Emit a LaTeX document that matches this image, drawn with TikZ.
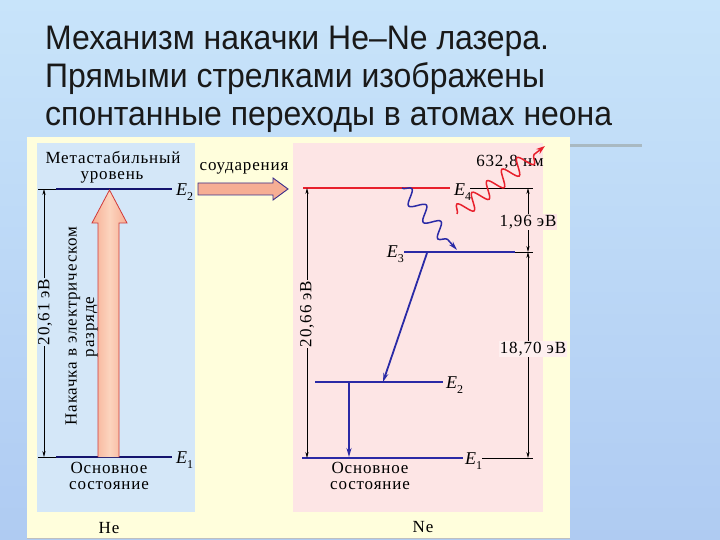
\documentclass[tikz,border=0pt]{standalone}
\usepackage{fontspec}
\setmainfont{Liberation Serif}
\newfontfamily\titlefont[FakeStretch=0.94]{Liberation Sans}
\newfontfamily\labfont[LetterSpace=5]{Liberation Serif}
\usetikzlibrary{arrows.meta,decorations.pathmorphing}
\definecolor{bgtop}{HTML}{C8E4FA}
\definecolor{bgbot}{HTML}{AFCBF2}
\definecolor{ypanel}{HTML}{FFFEDC}
\definecolor{hepanel}{HTML}{D4E7F8}
\definecolor{nepanel}{HTML}{FDE5E5}
\definecolor{gline}{HTML}{A9B9C2}
\definecolor{navy}{HTML}{14146E}
\definecolor{neblue}{HTML}{2A2AA6}
\definecolor{nered}{HTML}{E8202C}
\definecolor{peach}{HTML}{F6AE94}
\definecolor{peachlight}{HTML}{FCD4BE}
\definecolor{arrred}{HTML}{D03A3A}
\definecolor{arrnavy}{HTML}{3A2E8A}
\newcommand\lev[1]{{\fontsize{18}{18}\selectfont\textit{E}}\kern-1pt\raisebox{-0.3em}{\fontsize{12}{12}\selectfont #1}}
\begin{document}
\begin{tikzpicture}[x=1pt,y=-1pt,
  lab/.style={font=\labfont\fontsize{17}{17}\selectfont, inner sep=1pt},
  tight/.style={inner sep=0pt, text height=10pt, text depth=3pt},
  title/.style={anchor=base west, inner sep=0pt, font=\titlefont\fontsize{34}{38}\selectfont, text=black!90},
  dim/.style={black, line width=0.6pt, {Stealth[length=6pt,width=3.2pt]}-{Stealth[length=6pt,width=3.2pt]}},
  tick/.style={black, line width=0.8pt},
  helev/.style={navy, line width=2pt},
  nelev/.style={neblue, line width=2.2pt},
  trans/.style={neblue, line width=1.8pt, -{Stealth[length=9pt,width=5pt]}},
  wave/.style={decorate, decoration={snake, amplitude=7pt, segment length=22pt, post length=9pt}}]
\useasboundingbox (0,0) rectangle (720,540);
\shade[top color=bgtop, bottom color=bgbot] (0,0) rectangle (720,540);

% title
\node[title] (t1) at (45,50) {Механизм накачки He–Ne лазера.};
\node[title] (t2) at (45,88) {Прямыми стрелками изображены};
\node[title] (t3) at (45,126) {спонтанные переходы в атомах неона};
\draw[gline, line width=3pt] (570,146) -- (642,146);

% panels
\fill[ypanel] (27,137) rectangle (570,538);
\draw[black!25, line width=0.6pt] (27,538) -- (570,538);
\fill[hepanel] (37,143) rectangle (195,512);
\fill[nepanel] (293,143) rectangle (543,512);

% ---------------- He ----------------
\node[lab, tight] (meta1) at (113,160) {Метастабильный};
\node[lab, tight] (meta2) at (112,176.5) {уровень};
\coordinate (heE2a) at (38,189);
\coordinate (heE2b) at (56,189);
\coordinate (heE2c) at (172,189);
\coordinate (heE1a) at (38,457);
\coordinate (heE1b) at (56,457);
\coordinate (heE1c) at (172,457);
\draw[tick] (heE2a) -- (heE2b);
\draw[helev] (heE2b) -- (heE2c);
\draw[tick] (heE1a) -- (heE1b);
\draw[helev, line width=2.6pt] (heE1b) -- (heE1c);
\node[lab, anchor=west] (heE2lab) at (175,192) {\lev{2}};
\node[lab, anchor=west] (heE1lab) at (175,460) {\lev{1}};

\coordinate (hedimT) at (44,189);
\coordinate (hedimB) at (44,457);
\draw[dim] (hedimT) -- (hedimB);
\node[lab, rotate=90, fill=hepanel] (hedimlab) at (45,312) {20,61 эВ};

% pump arrow
\shade[left color=peach, right color=peach, middle color=peachlight]
  (98,457) -- (98,223) -- (92,223) -- (109.5,190) -- (127,223) -- (119,223) -- (119,457) -- cycle;
\draw[arrred, line width=0.8pt]
  (98,457) -- (98,223) -- (92,223) -- (109.5,190) -- (127,223) -- (119,223) -- (119,457);
\node[lab, rotate=90, tight] (pump1) at (73,326) {Накачка в электрическом};
\node[lab, rotate=90, tight] (pump2) at (90.5,327) {разряде};

\node[lab, tight] (heground1) at (109,469.5) {Основное};
\node[lab, tight] (heground2) at (109,486) {состояние};
\node[lab] (he) at (109,528) {He};

% collision arrow
\node[lab] (coll) at (244,168) {соударения};
\fill[peach] (198,183) -- (273,183) -- (273,178) -- (288,189) -- (273,200) -- (273,195) -- (198,195) -- cycle;
\draw[arrnavy, line width=0.9pt] (198,183) -- (273,183) -- (273,178) -- (288,189) -- (273,200) -- (273,195) -- (198,195) -- cycle;

% ---------------- Ne ----------------
\coordinate (E4a) at (303,188);
\coordinate (E4b) at (450,188);
\coordinate (E4t) at (470,188);
\coordinate (E4r) at (533,188);
\draw[nered, line width=1.6pt] (E4a) -- (E4b);
\draw[tick] (E4t) -- (E4r);
\node[lab, anchor=west] (E4lab) at (453,192) {\lev{4}};

\coordinate (E3a) at (404,252);
\coordinate (E3b) at (515,252);
\coordinate (E3r) at (533,252);
\draw[nelev] (E3a) -- (E3b);
\draw[tick] (E3b) -- (E3r);
\node[lab, anchor=east] (E3lab) at (405,254) {\lev{3}};

\coordinate (E2a) at (315,382);
\coordinate (E2b) at (443,382);
\draw[nelev] (E2a) -- (E2b);
\node[lab, anchor=west] (E2lab) at (445,385) {\lev{2}};

\coordinate (E1a) at (302,458);
\coordinate (E1b) at (463,458);
\coordinate (E1t) at (482,458);
\coordinate (E1r) at (533,458);
\draw[nelev, line width=2.8pt] (E1a) -- (E1b);
\draw[tick] (E1t) -- (E1r);
\node[lab, anchor=west] (E1lab) at (464,461) {\lev{1}};

% dimensions
\coordinate (nedimT) at (307,188);
\coordinate (nedimB) at (307,458);
\draw[dim] (nedimT) -- (nedimB);
\node[lab, rotate=90, fill=nepanel] (nedimlab) at (307,314) {20,66 эВ};

\coordinate (rd4) at (528,188);
\coordinate (rd3) at (528,252);
\coordinate (rd1) at (528,458);
\draw[dim] (rd4) -- (rd3);
\draw[dim] (rd3) -- (rd1);
\node[lab, fill=nepanel] (d196) at (528,222) {1,96 эВ};
\node[lab, fill=nepanel!60!white] (d1870) at (533,349) {18,70 эВ};

% transitions
\coordinate (w1s) at (402,188);
\coordinate (w1e) at (457,250);
\draw[neblue, line width=1.5pt, wave, -{Stealth[length=9pt,width=5pt]}] (w1s) -- (w1e);

\coordinate (s1s) at (427,253);
\coordinate (s1e) at (383,382);
\draw[trans] (s1s) -- (s1e);

\coordinate (s2s) at (349,383);
\coordinate (s2e) at (349,457);
\draw[trans] (s2s) -- (s2e);

\node[lab] (lambda) at (510,162) {632,8 нм};
\coordinate (w2s) at (457,214);
\coordinate (w2e) at (545,146);
\draw[nered, line width=1.5pt, decorate, decoration={snake, amplitude=8pt, segment length=19pt, post length=10pt}, -{Stealth[length=9pt,width=6pt]}] (w2s) -- (w2e);

\node[lab] (ne) at (423,527) {Ne};
\node[lab, tight] (neground1) at (370,469.5) {Основное};
\node[lab, tight] (neground2) at (370,486) {состояние};
\end{tikzpicture}
\end{document}
